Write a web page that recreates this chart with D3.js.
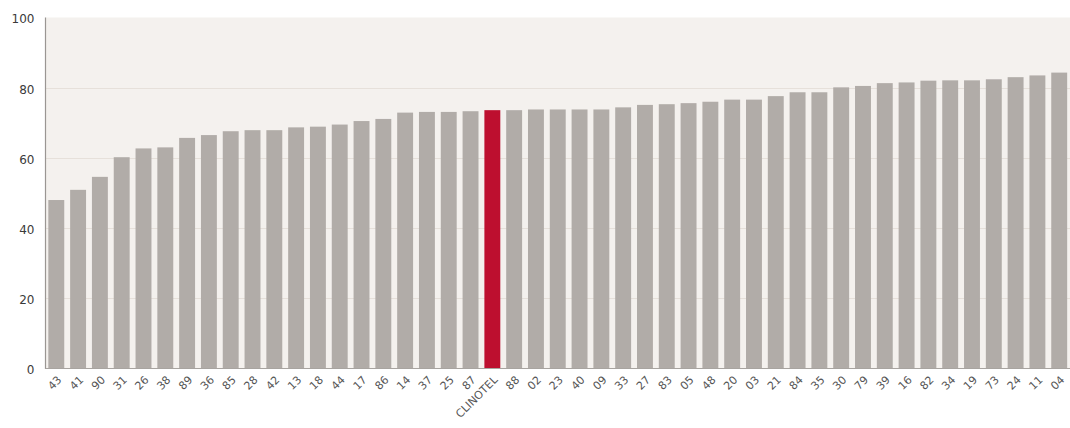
<!DOCTYPE html>
<html><head><meta charset="utf-8">
<script src="https://cdn.jsdelivr.net/npm/d3@7"></script>
<style>body{margin:0;background:#fff}svg{display:block}</style>
</head><body>
<svg id="c" width="1070" height="428"></svg>
<script>
const categories = ["43","41","90","31","26","38","89","36","85","28","42","13","18","44","17","86","14","37","25","87","CLINOTEL","88","02","23","40","09","33","27","83","05","48","20","03","21","84","35","30","79","39","16","82","34","19","73","24","11","04"];
const values = [48.0,50.9,54.6,60.2,62.7,63.0,65.7,66.5,67.6,67.9,67.9,68.7,68.9,69.5,70.5,71.1,72.9,73.1,73.1,73.3,73.6,73.6,73.8,73.8,73.8,73.8,74.4,75.1,75.3,75.6,76.0,76.6,76.6,77.6,78.7,78.7,80.1,80.5,81.3,81.5,82.0,82.1,82.1,82.4,83.0,83.5,84.3];
const highlight = "CLINOTEL";
const yTicks = [0,20,40,60,80,100];

const svg = d3.select("#c");
const mLeft = 45.5, mRight = 1070, mTop = 17.5, mBottom = 368.5;
const x = d3.scaleBand().domain(categories).range([mLeft, mRight]).paddingInner(0.27).paddingOuter(0.13);
const y = d3.scaleLinear().domain([0,100]).range([mBottom, mTop]);

svg.append("rect").attr("x", mLeft).attr("y", mTop).attr("width", mRight-mLeft).attr("height", mBottom-mTop).attr("fill", "#f4f1ee");

svg.append("g").selectAll("line").data(yTicks.filter(d=>d>0 && d<100)).join("line")
  .attr("x1", mLeft).attr("x2", mRight).attr("y1", d=>Math.round(y(d))+0.5).attr("y2", d=>Math.round(y(d))+0.5)
  .attr("stroke", "#e6e0da").attr("stroke-width", 1);

svg.append("g").selectAll("rect").data(categories).join("rect")
  .attr("x", d=>x(d)).attr("width", x.bandwidth())
  .attr("y", (d,i)=>y(values[i])).attr("height", (d,i)=>y(0)-y(values[i]))
  .attr("fill", d=>d===highlight ? "#bd0f2f" : "#b1aca8");

svg.append("line").attr("x1", mLeft).attr("x2", mLeft).attr("y1", mTop).attr("y2", mBottom+0.5).attr("stroke", "#9a9693").attr("stroke-width", 1.2);
svg.append("line").attr("x1", mLeft).attr("x2", mRight).attr("y1", mBottom).attr("y2", mBottom).attr("stroke", "#a8a4a0").attr("stroke-width", 1.2);

const yAxis = d3.axisLeft(y).tickValues(yTicks).tickSize(0).tickPadding(11);
const gy = svg.append("g").attr("transform", `translate(${mLeft},0)`).call(yAxis);
gy.select(".domain").remove();
gy.selectAll("text").attr("font-family", "DejaVu Sans, Verdana, sans-serif").attr("font-size", "12px").attr("fill", "#3a3a3a").attr("dy", "0.45em");

const xAxis = d3.axisBottom(x).tickSize(0).tickPadding(0);
const gx = svg.append("g").attr("transform", `translate(0,${mBottom})`).call(xAxis);
gx.select(".domain").remove();
gx.selectAll("text")
  .attr("font-family", "DejaVu Sans, Verdana, sans-serif").attr("font-size", "11px").attr("fill", "#555")
  .attr("text-anchor", "end").attr("dy", null).attr("y", 0)
  .attr("transform", "translate(6,12) rotate(-45)");
</script>
</body></html>
